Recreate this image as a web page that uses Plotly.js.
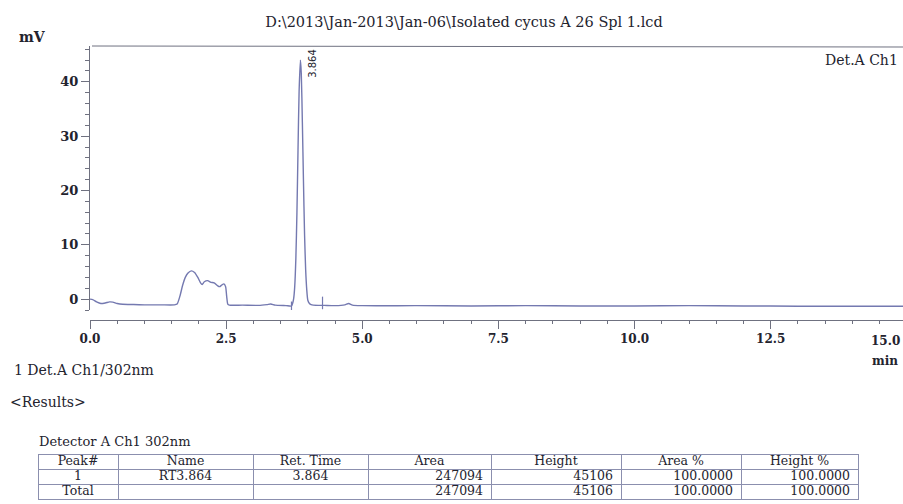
<!DOCTYPE html>
<html>
<head>
<meta charset="utf-8">
<script src="https://cdn.plot.ly/plotly-3.0.1.min.js"></script>
<style>
html,body{margin:0;padding:0;background:#fff;}
#chart{width:903px;height:504px;}
</style>
</head>
<body>
<div id="chart"></div>
<script>
// Chromatogram trace: retention time (min) and signal (mV)
const timeMin = [0.00,0.05,0.12,0.20,0.28,0.36,0.42,0.50,0.60,0.80,1.00,1.30,1.55,1.60,1.65,1.70,1.75,1.80,1.86,1.92,1.98,2.03,2.06,2.10,2.16,2.22,2.28,2.34,2.38,2.42,2.46,2.49,2.51,2.53,2.56,2.80,3.10,3.25,3.32,3.40,3.60,3.70,3.72,3.74,3.76,3.78,3.80,3.82,3.84,3.864,3.88,3.90,3.92,3.94,3.96,3.98,4.00,4.03,4.06,4.10,4.30,4.50,4.68,4.75,4.82,5.00,6.00,7.00,8.00,9.00,10.00,11.00,12.00,13.00,14.00,14.95];
const signalMv = [0.0,-0.1,-0.5,-0.8,-0.7,-0.5,-0.55,-0.8,-0.95,-1.0,-1.05,-1.05,-1.05,-0.9,0.5,2.5,4.0,4.8,5.2,4.9,4.0,3.0,2.7,3.2,3.4,3.1,3.0,2.5,2.3,2.6,2.8,2.3,0.5,-0.9,-1.1,-1.1,-1.15,-1.0,-0.9,-1.1,-1.2,-1.25,-0.8,0.1,2.4,7.4,15.9,27.4,38.2,44.0,41.6,32.5,21.8,12.0,5.5,1.8,-0.2,-0.8,-1.0,-1.1,-1.15,-1.2,-1.05,-0.8,-1.1,-1.2,-1.2,-1.25,-1.2,-1.25,-1.25,-1.2,-1.25,-1.3,-1.3,-1.3];

// Integration markers (peak start / end)
const markerTime = [3.70, 4.27];
const markerMv = [-1.6, -0.7];

// Peak label
const peakRt = 3.864;
const peakTop = 44.0;
const peakLabel = '3.864';

// Axis ticks
const xTickVals = [0, 2.5, 5, 7.5, 10, 12.5];
const xTickText = ['0.0','2.5','5.0','7.5','10.0','12.5'];
const yTickVals = [0, 10, 20, 30, 40];

// Results table
const tableHeader = ['Peak#','Name','Ret. Time','Area','Height','Area %','Height %'];
const colPeak = ['1','Total'];
const colName = ['RT3.864',''];
const colRt = ['3.864',''];
const colArea = ['247094','247094'];
const colHeight = ['45106','45106'];
const colAreaPct = ['100.0000','100.0000'];
const colHeightPct = ['100.0000','100.0000'];

const W = 903, H = 504;
const px = v => v / W;
const py = v => 1 - v / H;

const serif = 'DejaVu Serif, serif';
const ink = '#23232e';
const lineCol = '#7479b0';
const axisCol = '#6f7180';

const traces = [
  {
    type: 'scatter', mode: 'lines', x: timeMin, y: signalMv,
    line: {color: lineCol, width: 1.4, shape: 'spline', smoothing: 0.6},
    hoverinfo: 'skip', showlegend: false, cliponaxis: true
  },
  {
    type: 'scatter', mode: 'markers', x: markerTime, y: markerMv,
    marker: {symbol: 'line-ns-open', size: 9, color: lineCol, line: {color: lineCol, width: 1.2}},
    hoverinfo: 'skip', showlegend: false
  },
  {
    type: 'table',
    domain: {x: [px(38), px(858)], y: [0, py(454)]},
    columnwidth: [80, 135, 115, 123, 130, 120, 117],
    header: {
      values: tableHeader, align: 'center', height: 15,
      line: {color: '#8b8fae', width: 1}, fill: {color: '#ffffff'},
      font: {family: serif, size: 12.5, color: ink}
    },
    cells: {
      values: [colPeak, colName, colRt, colArea, colHeight, colAreaPct, colHeightPct],
      align: ['center','center','center','right','right','right','right'],
      height: 15,
      line: {color: '#8b8fae', width: 1}, fill: {color: '#ffffff'},
      font: {family: serif, size: 12.5, color: ink}
    }
  }
];

const layout = {
  width: W, height: H,
  margin: {l: 0, r: 0, t: 0, b: 0},
  paper_bgcolor: '#ffffff', plot_bgcolor: '#ffffff',
  showlegend: false,
  title: {
    text: 'D:\\2013\\Jan-2013\\Jan-06\\Isolated cycus A 26 Spl 1.lcd',
    x: px(464), y: py(22), xanchor: 'center', yanchor: 'middle',
    font: {family: serif, size: 14.5, color: ink}
  },
  xaxis: {
    domain: [px(90), 1], range: [0, 14.93],
    anchor: 'free', position: py(320),
    showgrid: false, zeroline: false,
    showline: true, linecolor: axisCol, linewidth: 1,
    ticks: 'outside', ticklen: 8, tickcolor: axisCol, tickwidth: 1,
    tickvals: xTickVals, ticktext: xTickText,
    minor: {dtick: 0.5, tick0: 0, ticks: 'outside', ticklen: 3, tickcolor: axisCol, tickwidth: 1},
    tickfont: {family: serif, size: 12, color: ink, weight: 'bold'}
  },
  yaxis: {
    domain: [py(310), py(46)], range: [-2.0, 46.6],
    showgrid: false, zeroline: false,
    showline: true, linecolor: axisCol, linewidth: 1,
    ticks: 'outside', ticklen: 8, tickcolor: axisCol, tickwidth: 1,
    tickvals: yTickVals,
    minor: {dtick: 2, tick0: 0, ticks: 'outside', ticklen: 4, tickcolor: axisCol, tickwidth: 1},
    tickfont: {family: serif, size: 13, color: ink, weight: 'bold'}
  },
  shapes: [
    {type: 'line', xref: 'paper', yref: 'paper', x0: px(92), x1: 1, y0: py(46), y1: py(47),
     line: {color: axisCol, width: 1}}
  ],
  annotations: [
    {text: 'mV', xref: 'paper', yref: 'paper', x: px(17), y: py(37), xanchor: 'left', yanchor: 'middle',
     showarrow: false, font: {family: serif, size: 14, color: ink, weight: 'bold'}},
    {text: 'Det.A Ch1', xref: 'paper', yref: 'paper', x: px(900), y: py(60), xanchor: 'right', yanchor: 'middle',
     showarrow: false, font: {family: serif, size: 14, color: ink}},
    {text: peakLabel, xref: 'x', yref: 'y', x: peakRt, y: peakTop - 0.6, xshift: 12, textangle: -90,
     xanchor: 'center', yanchor: 'middle', showarrow: false,
     font: {family: 'DejaVu Sans, sans-serif', size: 10, color: ink}},
    {text: '15.0', xref: 'paper', yref: 'paper', x: px(869), y: py(341), xanchor: 'left', yanchor: 'middle',
     showarrow: false, font: {family: serif, size: 12, color: ink, weight: 'bold'}},
    {text: 'min', xref: 'paper', yref: 'paper', x: px(900), y: py(361), xanchor: 'right', yanchor: 'middle',
     showarrow: false, font: {family: serif, size: 12, color: ink, weight: 'bold'}},
    {text: '1 Det.A Ch1/302nm', xref: 'paper', yref: 'paper', x: px(12), y: py(370), xanchor: 'left', yanchor: 'middle',
     showarrow: false, font: {family: serif, size: 14, color: ink}},
    {text: '&lt;Results&gt;', xref: 'paper', yref: 'paper', x: px(8), y: py(402), xanchor: 'left', yanchor: 'middle',
     showarrow: false, font: {family: serif, size: 14, color: ink}},
    {text: 'Detector A Ch1 302nm', xref: 'paper', yref: 'paper', x: px(37), y: py(441), xanchor: 'left', yanchor: 'middle',
     showarrow: false, font: {family: serif, size: 13, color: ink}}
  ]
};

Plotly.newPlot('chart', traces, layout, {staticPlot: true, displayModeBar: false}).then(function (gd) {
  // Plotly pads table text from the cell top; pull it up so it sits inside the 15px rows.
  gd.querySelectorAll('.table .cell-text-holder').forEach(function (el) {
    const t = el.getAttribute('transform') || '';
    el.setAttribute('transform', t + ' translate(0,-6)');
  });
});
</script>
</body>
</html>
